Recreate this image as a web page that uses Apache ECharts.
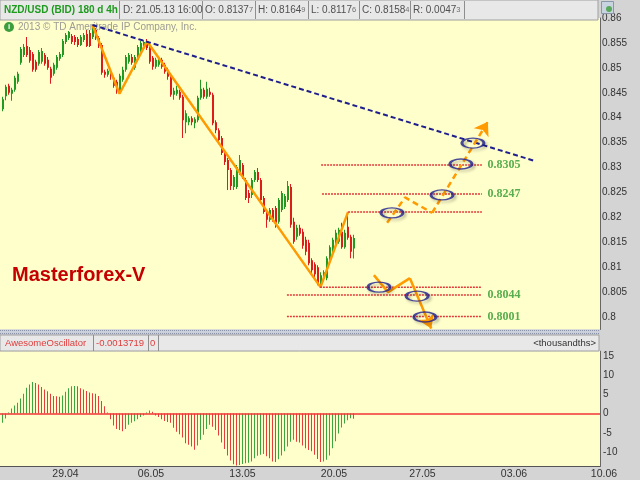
<!DOCTYPE html>
<html><head><meta charset="utf-8">
<script src="https://cdn.jsdelivr.net/npm/echarts@6/dist/echarts.min.js"></script>
<style>html,body{margin:0;padding:0;background:#D4D4D4}#c{width:640px;height:480px}</style>
</head><body><div id="c"></div>
<script>
// ---- data ----
const candleOpen = [
0.8417,0.8443,0.8464,0.8448,0.8456,0.8472,0.8510,0.8526,0.8544,0.8536,
0.8528,0.8512,0.8508,0.8512,0.8526,0.8516,0.8498,0.8488,0.8500,0.8518,
0.8526,0.8552,0.8560,0.8564,0.8562,0.8558,0.8546,0.8556,0.8568,0.8570,
0.8562,0.8576,0.8560,0.8546,0.8492,0.8486,0.8492,0.8480,0.8472,0.8452,
0.8476,0.8496,0.8512,0.8522,0.8500,0.8516,0.8532,0.8544,0.8554,0.8540,
0.8520,0.8502,0.8506,0.8516,0.8506,0.8496,0.8482,0.8446,0.8448,0.8452,
0.8442,0.8391,0.8391,0.8399,0.8389,0.8395,0.8440,0.8456,0.8442,0.8452,
0.8446,0.8391,0.8375,0.8359,0.8331,0.8315,0.8295,0.8261,0.8261,0.8289,
0.8305,0.8275,0.8249,0.8245,0.8275,0.8291,0.8275,0.8239,0.8211,0.8195,
0.8215,0.8219,0.8191,0.8215,0.8221,0.8235,0.8261,0.8191,0.8161,0.8179,
0.8171,0.8155,0.8149,0.8114,0.8106,0.8100,0.8070,0.8078,0.8078,0.8114,
0.8134,0.8145,0.8151,0.8171,0.8140,0.8181,0.8161,0.81377];
const candleClose = [
0.8437,0.8462,0.8450,0.8456,0.8480,0.8488,0.8538,0.8542,0.8526,0.8514,
0.8496,0.8496,0.8532,0.8534,0.8508,0.8500,0.8480,0.8506,0.8522,0.8528,
0.8554,0.8566,0.8572,0.8552,0.8552,0.8546,0.8562,0.8566,0.8544,0.8544,
0.8578,0.8560,0.8544,0.8490,0.8486,0.8494,0.8486,0.8464,0.8456,0.8484,
0.8496,0.8522,0.8526,0.8510,0.8522,0.8542,0.8550,0.8552,0.8540,0.8512,
0.8502,0.8516,0.8520,0.8502,0.8492,0.8482,0.8446,0.8454,0.8456,0.8440,
0.8395,0.8409,0.8399,0.8391,0.8397,0.8440,0.8458,0.8442,0.8458,0.8446,
0.8389,0.8375,0.8355,0.8329,0.8311,0.8295,0.8263,0.8281,0.8301,0.8315,
0.8281,0.8239,0.8239,0.8275,0.8291,0.8275,0.8235,0.8211,0.8195,0.8215,
0.8195,0.8189,0.8235,0.8249,0.8243,0.8263,0.8185,0.8151,0.8179,0.8167,
0.8143,0.8131,0.8108,0.8094,0.8086,0.8068,0.8084,0.8090,0.8118,0.8140,
0.8155,0.8169,0.8175,0.8140,0.8169,0.8159,0.8131,0.81584];
const candleHigh = [
0.8442,0.8466,0.8468,0.8460,0.8484,0.8492,0.8542,0.8548,0.8562,0.8542,
0.8532,0.8516,0.8536,0.8540,0.8530,0.8522,0.8502,0.8510,0.8526,0.8532,
0.8558,0.8570,0.8574,0.8568,0.8566,0.8562,0.8566,0.8570,0.8576,0.8576,
0.8586,0.8580,0.8564,0.8550,0.8496,0.8498,0.8496,0.8484,0.8476,0.8488,
0.8502,0.8526,0.8530,0.8528,0.8526,0.8546,0.8554,0.8556,0.8558,0.8544,
0.8524,0.8520,0.8524,0.8520,0.8510,0.8500,0.8486,0.8460,0.8464,0.8456,
0.8446,0.8415,0.8403,0.8403,0.8401,0.8444,0.8476,0.8460,0.8472,0.8460,
0.8450,0.8395,0.8379,0.8363,0.8335,0.8319,0.8299,0.8285,0.8305,0.8325,
0.8309,0.8279,0.8255,0.8279,0.8295,0.8299,0.8279,0.8243,0.8215,0.8219,
0.8219,0.8223,0.8239,0.8253,0.8247,0.8273,0.8267,0.8199,0.8185,0.8185,
0.8177,0.8161,0.8155,0.8118,0.8110,0.8104,0.8090,0.8094,0.8122,0.8144,
0.8159,0.8175,0.8179,0.8189,0.8175,0.8211,0.8165,0.81649];
const candleLow = [
0.8413,0.8435,0.8446,0.8434,0.8452,0.8468,0.8506,0.8522,0.8522,0.8510,
0.8492,0.8492,0.8504,0.8508,0.8504,0.8496,0.8468,0.8484,0.8496,0.8514,
0.8522,0.8548,0.8556,0.8548,0.8546,0.8542,0.8544,0.8552,0.8542,0.8542,
0.8558,0.8556,0.8540,0.8486,0.8480,0.8482,0.8476,0.8460,0.8448,0.8448,
0.8472,0.8492,0.8508,0.8506,0.8496,0.8512,0.8528,0.8540,0.8536,0.8508,
0.8496,0.8498,0.8502,0.8498,0.8488,0.8476,0.8442,0.8436,0.8444,0.8436,
0.8359,0.8369,0.8385,0.8385,0.8379,0.8391,0.8436,0.8438,0.8438,0.8442,
0.8385,0.8369,0.8351,0.8325,0.8305,0.8255,0.8255,0.8255,0.8257,0.8285,
0.8277,0.8235,0.8229,0.8239,0.8271,0.8271,0.8231,0.8207,0.8179,0.8191,
0.8191,0.8179,0.8187,0.8211,0.8217,0.8231,0.8179,0.8147,0.8155,0.8163,
0.8137,0.8124,0.8104,0.8088,0.8080,0.8064,0.8060,0.8072,0.8074,0.8110,
0.8130,0.8140,0.8147,0.8137,0.8137,0.8155,0.8118,0.81176];
// Awesome Oscillator (thousandths)
const aoValues = [
-2.4,-1.3,0.3,1.3,2.1,2.8,3.9,5.2,6.7,7.6,
8.2,8.0,7.6,6.9,6.3,5.8,5.2,4.6,4.5,4.4,
4.7,5.7,6.6,7.1,7.2,7.1,6.6,6.3,5.9,5.5,
5.3,5.2,4.6,3.3,1.9,0.3,-1.5,-3.1,-4.0,-4.3,
-4.6,-4.0,-2.9,-2.4,-2.0,-1.5,-0.9,-0.5,0.3,0.8,
0.5,-0.5,-0.9,-1.5,-1.9,-2.2,-2.4,-3.7,-4.7,-5.4,
-6.2,-7.7,-8.1,-8.6,-9.4,-8.3,-6.8,-5.5,-4.0,-2.9,
-3.4,-4.3,-5.7,-7.5,-9.2,-10.9,-12.2,-13.2,-13.5,-13.4,
-13.1,-12.9,-12.8,-12.5,-11.6,-11.0,-10.7,-10.5,-11.1,-11.6,
-12.5,-12.6,-11.9,-10.9,-9.8,-8.6,-7.3,-6.8,-7.3,-7.5,
-8.3,-9.0,-9.5,-9.8,-10.7,-11.8,-12.6,-12.5,-12.0,-10.9,
-9.0,-7.2,-5.2,-3.6,-2.6,-1.7,-1.2,-1.3718];
const dateLabels = ['29.04','06.05','13.05','20.05','27.05','03.06','10.06'];
const dateLabelPos = [21, 49.5, 80, 110.5, 140, 170.5, 200.5];
// analysis drawings (x = bar index, y = price)
const zigzagX = [30, 39, 48.2, 106, 115.2];
const zigzagY = [0.8586, 0.8448, 0.8553, 0.8060, 0.8211];
const trendX = [30, 177.5];
const trendY = [0.8586, 0.8313];
const levelValues = [0.8305, 0.8247, 0.8211, 0.8060, 0.8044, 0.8001];
const levelStart = [106.2, 106.5, 115.2, 105.8, 94.8, 94.8];
const levelLabelled = [true, true, false, false, true, true];
const levelEnd = 159.8;
const upPathX = [128.2, 134.2, 143.2, 161.8];
const upPathY = [0.8189, 0.8240, 0.8209, 0.8392];
const downPathX = [123.8, 128.5, 135.8, 142.9];
const downPathY = [0.8084, 0.8050, 0.8078, 0.7977];
const ringX = [129.8, 146.5, 152.8, 156.8, 125.5, 138.2, 140.8];
const ringY = [0.8209, 0.8245, 0.8307, 0.8349, 0.8060, 0.8042, 0.8000];
const headerTitle = 'NZD/USD (BID) 180 d 4h';
const headerDate = 'D: 21.05.13 16:00';
const aoHeader = ['AwesomeOscillator', '-0.0013719', '0', '<thousandths>'];

// ---- chart ----
const GREEN = '#229A22', RED = '#DE1C1C', ORANGE = '#FF9A00', NAVY = '#1E1E8E';
const AO_GREEN = '#3DA53D', AO_RED = '#E83C3C';
const FONT = 'Liberation Sans';
const N = candleOpen.length;
const XMIN = -2.5 / 3;
const candleData = candleOpen.map((o, i) => [i, o, candleClose[i], candleLow[i], candleHigh[i]]);
const aoData = aoValues.map((v, i) => [i, v, (i === 0 || v >= aoValues[i - 1]) ? 1 : 0]);
const pts = (xs, ys) => xs.map((x, i) => [x, ys[i]]);

const last = N - 1;
const f5 = v => v.toFixed(5);
const hdrVals = [
  ['O: ', candleOpen[last]], ['H: ', candleHigh[last]], ['L: ', candleLow[last]],
  ['C: ', candleClose[last]], ['R: ', candleHigh[last] - candleLow[last]]
];
const hdrX = [205, 258, 311, 362, 413];
const sepX = [119, 202, 255, 308, 359, 410, 464];

const graphics = [];
graphics.push({type: 'rect', z: 100, shape: {x: 0, y: 0, width: 598, height: 20}, style: {fill: '#E8E8E8', stroke: '#A0A0A0', lineWidth: 1}});
sepX.forEach(x => graphics.push({type: 'line', z: 101, shape: {x1: x + 0.5, y1: 1, x2: x + 0.5, y2: 19}, style: {stroke: '#8E8E8E', lineWidth: 1}}));
graphics.push({type: 'text', z: 102, x: 4, y: 10, style: {text: headerTitle, fill: '#1E9A1E', font: 'bold 10px ' + FONT, verticalAlign: 'middle'}});
graphics.push({type: 'text', z: 102, x: 123, y: 10, style: {text: headerDate, fill: '#505050', font: '10px ' + FONT, verticalAlign: 'middle'}});
hdrVals.forEach((hv, k) => {
  const s = f5(hv[1]);
  graphics.push({type: 'text', z: 102, x: hdrX[k], y: 10, style: {
    text: '{a|' + hv[0] + s.slice(0, -1) + '}{b|' + s.slice(-1) + '}',
    verticalAlign: 'middle',
    rich: {a: {fill: '#505050', fontSize: 10, fontFamily: FONT}, b: {fill: '#707070', fontSize: 7.5, fontFamily: FONT}}
  }});
});
// top-right icon
graphics.push({type: 'rect', z: 102, shape: {x: 601.5, y: 1.5, width: 12, height: 12}, style: {fill: '#C8D4E0', stroke: '#8898A8', lineWidth: 1}});
graphics.push({type: 'circle', z: 103, shape: {cx: 609, cy: 9, r: 3}, style: {fill: '#5AA85A'}});
// copyright
graphics.push({type: 'circle', z: 1, shape: {cx: 9, cy: 27, r: 5}, style: {fill: '#3C9E3C'}});
graphics.push({type: 'text', z: 1, x: 9, y: 27, style: {text: 'i', fill: '#fff', font: 'bold 8px ' + FONT, align: 'center', verticalAlign: 'middle'}});
graphics.push({type: 'text', z: 1, x: 18, y: 27, style: {text: '2013 © TD Ameritrade IP Company, Inc.', fill: '#9C9C94', font: '10px ' + FONT, verticalAlign: 'middle'}});
graphics.push({type: 'text', z: 6, x: 12, y: 275, style: {text: 'Masterforex-V', fill: '#C40000', font: 'bold 20px ' + FONT, verticalAlign: 'middle'}});
// panel separator
graphics.push({type: 'rect', z: 100, shape: {x: 0, y: 329.5, width: 600, height: 5.5}, style: {fill: '#CCD0DA'}});
graphics.push({type: 'line', z: 101, shape: {x1: 0, y1: 330.5, x2: 600, y2: 330.5}, style: {stroke: '#8A92A8', lineWidth: 1, lineDash: [1, 1]}});
graphics.push({type: 'line', z: 101, shape: {x1: 0, y1: 333.5, x2: 600, y2: 333.5}, style: {stroke: '#8A92A8', lineWidth: 1, lineDash: [1, 1]}});
// oscillator header
graphics.push({type: 'rect', z: 100, shape: {x: 0, y: 335, width: 599, height: 16}, style: {fill: '#E8E8E8', stroke: '#A0A0A0', lineWidth: 1}});
[93, 148, 158].forEach(x => graphics.push({type: 'line', z: 101, shape: {x1: x + 0.5, y1: 335, x2: x + 0.5, y2: 351}, style: {stroke: '#8E8E8E', lineWidth: 1}}));
graphics.push({type: 'text', z: 102, x: 5, y: 343.5, style: {text: aoHeader[0], fill: '#E03C3C', font: '9.5px ' + FONT, verticalAlign: 'middle'}});
graphics.push({type: 'text', z: 102, x: 96, y: 343.5, style: {text: aoHeader[1], fill: '#E03C3C', font: '9.5px ' + FONT, verticalAlign: 'middle'}});
graphics.push({type: 'text', z: 102, x: 150, y: 343.5, style: {text: aoHeader[2], fill: '#E03C3C', font: '9.5px ' + FONT, verticalAlign: 'middle'}});
graphics.push({type: 'text', z: 102, x: 596, y: 343.5, style: {text: aoHeader[3], fill: '#333', font: '9.5px ' + FONT, align: 'right', verticalAlign: 'middle'}});

const series = [];
series.push({
  type: 'custom', xAxisIndex: 0, yAxisIndex: 0, z: 2, silent: true,
  data: candleData, encode: {x: 0, y: [1, 2, 3, 4]},
  renderItem: (params, api) => {
    const i = api.value(0), o = api.value(1), c = api.value(2), l = api.value(3), h = api.value(4);
    const po = api.coord([i, o]), pc = api.coord([i, c]), pl = api.coord([i, l]), ph = api.coord([i, h]);
    const x = po[0];
    const col = c >= o ? GREEN : RED;
    const top = Math.min(po[1], pc[1]), bot = Math.max(po[1], pc[1]);
    return {type: 'group', children: [
      {type: 'rect', shape: {x: x - 0.5, y: ph[1], width: 1, height: pl[1] - ph[1]}, style: {fill: col}},
      {type: 'rect', shape: {x: x - 0.5, y: top, width: 2, height: Math.max(1.5, bot - top)}, style: {fill: col}}
    ]};
  }
});
series.push({type: 'line', xAxisIndex: 0, yAxisIndex: 0, z: 3, silent: true, data: pts(zigzagX, zigzagY), symbol: 'none', lineStyle: {color: ORANGE, width: 2.5}});
series.push({type: 'line', xAxisIndex: 0, yAxisIndex: 0, z: 3, silent: true, data: pts(trendX, trendY), symbol: 'none', lineStyle: {color: NAVY, width: 2, type: [5, 3]}});
levelValues.forEach((v, k) => {
  series.push({type: 'line', xAxisIndex: 0, yAxisIndex: 0, z: 3, silent: true, data: [[levelStart[k], v], [levelEnd, v]], symbol: 'none', lineStyle: {color: '#E23A3A', width: 1.5, type: [2, 1]}});
});
series.push({
  type: 'scatter', xAxisIndex: 0, yAxisIndex: 0, z: 4, silent: true, symbolSize: 1,
  itemStyle: {color: 'rgba(0,0,0,0)'},
  data: levelValues.map((v, k) => levelLabelled[k] ? [levelEnd, v] : null).filter(d => d),
  label: {show: true, position: 'right', distance: 5, formatter: p => p.value[1].toFixed(4),
    color: '#2E9A2E', fontFamily: 'Liberation Serif', fontWeight: 'bold', fontSize: 12}
});
const up = pts(upPathX, upPathY), dn = pts(downPathX, downPathY);
series.push({
  type: 'line', xAxisIndex: 0, yAxisIndex: 0, z: 4, silent: true, data: up.slice(0, 3), symbol: 'none',
  lineStyle: {color: ORANGE, width: 2.5, type: [6, 4]},
  markLine: {silent: true, animation: false, symbol: ['none', 'arrow'], symbolSize: 13, label: {show: false},
    lineStyle: {color: ORANGE, width: 2.5, type: [6, 4]},
    data: [[{coord: up[2]}, {coord: up[3]}]]}
});
series.push({
  type: 'line', xAxisIndex: 0, yAxisIndex: 0, z: 4, silent: true, data: dn.slice(0, 3), symbol: 'none',
  lineStyle: {color: ORANGE, width: 2.5},
  markLine: {silent: true, animation: false, symbol: ['none', 'arrow'], symbolSize: 13, label: {show: false},
    lineStyle: {color: ORANGE, width: 2.5, type: 'solid'},
    data: [[{coord: dn[2]}, {coord: dn[3]}]]}
});
series.push({
  type: 'scatter', xAxisIndex: 0, yAxisIndex: 0, z: 5, silent: true, symbol: 'circle', symbolSize: [22, 10],
  data: pts(ringX, ringY),
  itemStyle: {color: 'rgba(0,0,0,0)', borderColor: NAVY, borderWidth: 2,
    shadowBlur: 3, shadowColor: 'rgba(0,0,0,0.35)', shadowOffsetX: 2, shadowOffsetY: 2}
});
series.push({
  type: 'custom', xAxisIndex: 1, yAxisIndex: 1, z: 2, silent: true,
  data: aoData, encode: {x: 0, y: 1},
  renderItem: (params, api) => {
    const i = api.value(0), v = api.value(1);
    const p0 = api.coord([i, 0]), p1 = api.coord([i, v]);
    return {type: 'rect', shape: {x: p0[0] - 0.5, y: Math.min(p0[1], p1[1]), width: 1, height: Math.abs(p1[1] - p0[1])},
      style: {fill: api.value(2) ? AO_GREEN : AO_RED}};
  },
  markLine: {silent: true, animation: false, symbol: 'none', data: [
    {yAxis: 0, lineStyle: {color: '#F03434', width: 1.5, type: 'solid'}, label: {show: false}},
    {yAxis: aoValues[last], lineStyle: {opacity: 0}, label: {show: true, position: 'end', distance: 2,
      formatter: aoValues[last].toFixed(4), color: '#fff', backgroundColor: '#D01818', padding: [2, 2, 1, 2],
      fontSize: 10, fontFamily: FONT}}
  ]}
});

const option = {
  animation: false,
  backgroundColor: '#D4D4D4',
  grid: [
    {left: 0, top: 18, width: 600, height: 311.5, show: true, backgroundColor: '#FFFFCC', borderWidth: 0},
    {left: 0, top: 351.2, width: 600, height: 115.2, show: true, backgroundColor: '#FFFFCC', borderWidth: 0},
    {left: 0, top: 466, width: 621, height: 1, show: false}
  ],
  xAxis: [
    {type: 'value', gridIndex: 0, min: XMIN, max: XMIN + 200, show: false},
    {type: 'value', gridIndex: 1, min: XMIN, max: XMIN + 200, axisLine: {show: true, onZero: false, lineStyle: {color: '#555', width: 1}},
      axisTick: {show: false}, axisLabel: {show: false}, splitLine: {show: false}},
    {type: 'value', gridIndex: 2, min: XMIN, max: XMIN + 207, axisLine: {show: false}, axisTick: {show: false}, splitLine: {show: false},
      axisLabel: {show: true, customValues: dateLabelPos, margin: 2, color: '#333', fontSize: 10.5, fontFamily: FONT,
        formatter: v => { const k = dateLabelPos.findIndex(p => Math.abs(p - v) < 0.01); return k >= 0 ? dateLabels[k] : ''; }}}
  ],
  yAxis: [
    {type: 'value', gridIndex: 0, position: 'right', min: 0.7975, max: 0.86, interval: 0.0025,
      axisLine: {show: true, onZero: false, lineStyle: {color: '#666', width: 1}}, axisTick: {show: false}, splitLine: {show: false},
      axisLabel: {margin: 2, color: '#333', fontSize: 10, fontFamily: FONT,
        formatter: v => { const k = Math.round(v / 0.0025); return k % 2 === 0 ? String(parseFloat(v.toFixed(3))) : ''; }}},
    {type: 'value', gridIndex: 1, position: 'right', min: -13.75, max: 16.25, interval: 1.25,
      axisLine: {show: true, onZero: false, lineStyle: {color: '#666', width: 1}}, axisTick: {show: false}, splitLine: {show: false},
      axisLabel: {margin: 3, color: '#333', fontSize: 10, fontFamily: FONT,
        formatter: v => { const k = Math.round(v / 1.25); return k % 4 === 0 ? String(Math.round(v)) : ''; }}},
    {type: 'value', gridIndex: 2, min: 0, max: 1, show: false}
  ],
  graphic: {elements: graphics},
  series: series
};
const chart = echarts.init(document.getElementById('c'), null, {renderer: 'canvas'});
chart.setOption(option);
</script>
</body></html>
